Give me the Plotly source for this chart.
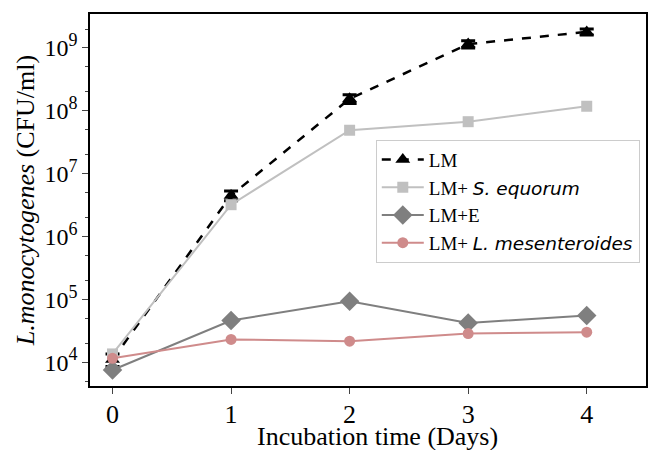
import plotly.graph_objects as go

days = [0, 1, 2, 3, 4]
lm = [1.1e4, 4.5e6, 1.55e8, 1.15e9, 1.8e9]
lm_err = [0.25e4, 0.8e6, 0.25e8, 0.15e9, 0.2e9]
s_equorum = [1.35e4, 3.2e6, 4.9e7, 6.7e7, 1.18e8]
lm_e = [7.5e3, 4.6e4, 9.3e4, 4.2e4, 5.5e4]
l_mes = [1.15e4, 2.3e4, 2.15e4, 2.85e4, 3.0e4]

ytick_vals = [1e4, 1e5, 1e6, 1e7, 1e8, 1e9]
ytick_exp = ["4", "5", "6", "7", "8", "9"]
ytick_text = ["10<sup><span style='font-size:18px'>%s</span></sup>" % e for e in ytick_exp]

SERIF = "Liberation Serif, Times New Roman, serif"
SANS = "<span style='font-family:DejaVu Sans;font-size:18.5px'><i>{}</i></span>"

fig = go.Figure()
fig.add_trace(go.Scatter(
    x=days, y=lm, mode="lines+markers",
    name="LM",
    line=dict(color="black", width=2.5, dash="dash"),
    marker=dict(symbol="triangle-up", size=13, color="black"),
    error_y=dict(type="data", array=lm_err, color="black", thickness=3, width=7),
))
fig.add_trace(go.Scatter(
    x=days, y=s_equorum, mode="lines+markers",
    name="LM+ " + SANS.format("S. equorum"),
    line=dict(color="#c0c0c0", width=2),
    marker=dict(symbol="square", size=11, color="#c0c0c0"),
))
fig.add_trace(go.Scatter(
    x=days, y=lm_e, mode="lines+markers",
    name="LM+E",
    line=dict(color="#7f7f7f", width=2),
    marker=dict(symbol="diamond", size=15, color="#7f7f7f"),
))
fig.add_trace(go.Scatter(
    x=days, y=l_mes, mode="lines+markers",
    name="LM+ " + SANS.format("L. mesenteroides"),
    line=dict(color="#cf8b8b", width=2),
    marker=dict(symbol="circle", size=11, color="#cf8b8b"),
))

fig.update_layout(
    width=654, height=450,
    margin=dict(l=90, r=8, t=14, b=64),
    paper_bgcolor="white", plot_bgcolor="white",
    font=dict(family=SERIF, size=20, color="black"),
    showlegend=True,
    legend=dict(
        x=0.514, y=0.662, xanchor="left", yanchor="top",
        bgcolor="white", bordercolor="#cccccc", borderwidth=1,
        font=dict(family=SERIF, size=19),
        traceorder="normal", itemwidth=42,
        tracegroupgap=0,
    ),
    xaxis=dict(
        range=[-0.19, 4.5], tickvals=days, ticks="outside", ticklen=6,
        tickfont=dict(family=SERIF, size=26), ticklabelstandoff=-2,
        showgrid=False, zeroline=False, showline=True, linecolor="black",
        linewidth=1.5, mirror=True, automargin=False,
    ),
    yaxis=dict(
        type="log", range=[3.62, 9.54],
        tickvals=ytick_vals, ticktext=ytick_text,
        tickfont=dict(family=SERIF, size=24),
        ticks="outside", ticklen=6,
        minor=dict(ticks="outside", ticklen=3, showgrid=False),
        showgrid=False, zeroline=False, showline=True, linecolor="black",
        linewidth=1.5, mirror=True, automargin=False,
        title=dict(text="<i>L.monocytogenes</i> (CFU/ml)", standoff=2,
                   font=dict(family=SERIF, size=26)),
    ),
    annotations=[dict(
        text="Incubation time (Days)", xref="paper", yref="paper",
        x=0.5, y=-64 / 372, xanchor="center", yanchor="bottom",
        xshift=9, yshift=-3,
        showarrow=False, font=dict(family=SERIF, size=26),
    )],
)

fig.write_html("out.html", config={"displayModeBar": False},
               post_script="document.body.style.margin='0px';")
